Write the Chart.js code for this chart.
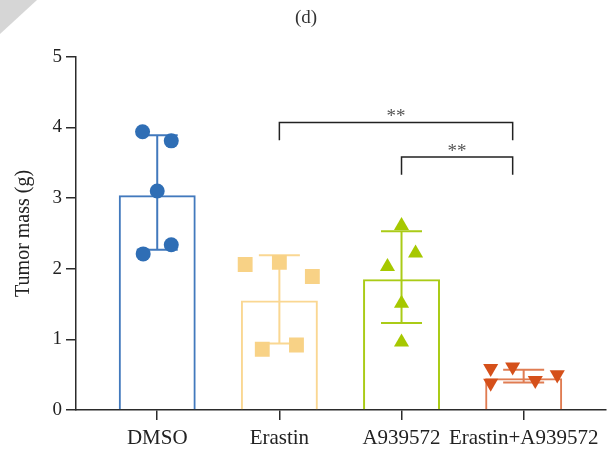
<!DOCTYPE html>
<html>
<head>
<meta charset="utf-8">
<script src="https://cdn.jsdelivr.net/npm/chart.js@4.4.0/dist/chart.umd.min.js"></script>
<style>
    html, body { margin: 0; padding: 0; background: #fff; }
    #wrap { position: relative; width: 616px; height: 464px; }
    #coin { position: absolute; left: 0; top: 0; width: 37px; height: 34px; background: #d6d6d6; clip-path: polygon(0 0, 100% 0, 0 100%); }
</style>
</head>
<body>
<div id="wrap">
    <canvas id="chart" width="616" height="464"></canvas>
    <div id="coin"></div>
</div>
<script>
// --- Données ---
const categories = ['DMSO', 'Erastin', 'A939572', 'Erastin+A939572'];
const means = [3.04, 1.55, 1.85, 0.45];
const errHigh = [3.89, 2.19, 2.53, 0.57];
const errLow = [2.27, 0.94, 1.23, 0.39];

const dmsoPoints = [3.94, 3.81, 3.10, 2.34, 2.21];
const dmsoJitter = [-0.12, 0.115, 0, 0.115, -0.115];
const erastinPoints = [2.06, 2.09, 1.89, 0.86, 0.92];
const erastinJitter = [-0.28, 0, 0.27, -0.14, 0.14];
const a939Points = [2.61, 2.22, 2.03, 1.51, 0.96];
const a939Jitter = [0, 0.115, -0.115, 0, 0];
const comboPoints = [0.59, 0.38, 0.61, 0.42, 0.50];
const comboJitter = [-0.27, -0.27, -0.09, 0.095, 0.275];

const yTicks = [0, 1, 2, 3, 4, 5];

// comparaisons significatives
const bracketFrom = [1, 2];
const bracketTo = [2.91, 2.91];
const bracketY = [4.07, 3.58];
const bracketLegY = [3.82, 3.33];
const bracketLabels = ['**', '**'];

// --- Styles ---
const pointColors = ['#2f6eb5', '#f8d286', '#a6c800', '#d5501a'];
const barColors = ['#4279bd', '#fad792', '#aacb17', '#e07c52'];
const FONT = "'Liberation Serif', 'DejaVu Serif', serif";
const AXIS = '#2b2b2b';

function pointsDataset(values, jitter, idx, style, radius, rotation) {
    return {
        type: 'scatter',
        data: values.map((v, i) => ({ x: idx + jitter[i], y: v })),
        pointStyle: style,
        pointRadius: radius,
        pointHoverRadius: radius,
        rotation: rotation || 0,
        backgroundColor: pointColors[idx],
        borderColor: pointColors[idx],
        borderWidth: 0,
        order: 1
    };
}

// --- Barres d'erreur + crochets de significativité ---
const annotations = {
    id: 'annotations',
    afterDatasetDraw(chart, args) {
        if (args.index !== 0) return;
        const { ctx, scales: { x, y } } = chart;
        const half = 20.5;
        ctx.save();
        ctx.lineWidth = 2;
        categories.forEach((c, i) => {
            const cx = x.getPixelForValue(i);
            const top = y.getPixelForValue(errHigh[i]);
            const bot = y.getPixelForValue(errLow[i]);
            ctx.strokeStyle = barColors[i];
            ctx.beginPath();
            ctx.moveTo(cx, top); ctx.lineTo(cx, bot);
            ctx.moveTo(cx - half, top); ctx.lineTo(cx + half, top);
            ctx.moveTo(cx - half, bot); ctx.lineTo(cx + half, bot);
            ctx.stroke();
        });
        ctx.restore();
    },
    afterDraw(chart) {
        const { ctx, scales: { x, y } } = chart;
        ctx.save();
        ctx.strokeStyle = '#222';
        ctx.lineWidth = 1.5;
        ctx.fillStyle = '#555';
        ctx.font = `19px ${FONT}`;
        ctx.textAlign = 'center';
        ctx.textBaseline = 'alphabetic';
        bracketFrom.forEach((from, i) => {
            const x1 = x.getPixelForValue(from);
            const x2 = x.getPixelForValue(bracketTo[i]);
            const yTop = y.getPixelForValue(bracketY[i]);
            const yLeg = y.getPixelForValue(bracketLegY[i]);
            ctx.beginPath();
            ctx.moveTo(x1, yLeg); ctx.lineTo(x1, yTop);
            ctx.lineTo(x2, yTop); ctx.lineTo(x2, yLeg);
            ctx.stroke();
            ctx.fillText(bracketLabels[i], (x1 + x2) / 2, yTop);
        });
        ctx.restore();
    }
};

const ctx = document.getElementById('chart').getContext('2d');

new Chart(ctx, {
    type: 'bar',
    data: {
        datasets: [
            {
                data: means.map((m, i) => ({ x: i, y: m })),
                backgroundColor: 'rgba(255,255,255,0)',
                borderColor: barColors,
                borderWidth: 2,
                borderSkipped: 'bottom',
                barPercentage: 0.63,
                categoryPercentage: 1,
                order: 2
            },
            pointsDataset(dmsoPoints, dmsoJitter, 0, 'circle', 7.5),
            pointsDataset(erastinPoints, erastinJitter, 1, 'rect', 10.5),
            pointsDataset(a939Points, a939Jitter, 2, 'triangle', 8.7),
            pointsDataset(comboPoints, comboJitter, 3, 'triangle', 8.7, 180)
        ]
    },
    options: {
        responsive: false,
        animation: false,
        layout: { padding: { left: 0, right: 4, top: 0, bottom: 0 } },
        plugins: {
            legend: { display: false },
            tooltip: { enabled: false },
            title: {
                display: true,
                text: '(d)',
                color: '#333',
                font: { family: FONT, size: 19, weight: 'normal' },
                padding: { top: 7, bottom: 27 }
            }
        },
        scales: {
            x: {
                type: 'linear',
                offset: false,
                min: -0.665,
                max: 3.67,
                afterBuildTicks: scale => {
                    scale.ticks = categories.map((c, i) => ({ value: i }));
                },
                afterFit: scale => {
                    scale.height = 54;
                    scale.paddingLeft = 0;
                    scale.paddingRight = 0;
                },
                ticks: {
                    callback: val => categories[val],
                    color: '#222',
                    font: { family: FONT, size: 21 },
                    padding: 6,
                    maxRotation: 0,
                    autoSkip: false
                },
                grid: { offset: false, drawOnChartArea: false, tickLength: 10, tickColor: AXIS, lineWidth: 1.5 },
                border: { color: AXIS, width: 1.5 }
            },
            y: {
                min: 0,
                max: 5,
                afterBuildTicks: scale => {
                    scale.ticks = yTicks.map(v => ({ value: v }));
                },
                afterFit: scale => { scale.width = 76; },
                ticks: {
                    color: '#222',
                    font: { family: FONT, size: 19 },
                    padding: 4
                },
                grid: { drawOnChartArea: false, tickLength: 10, tickColor: AXIS, lineWidth: 1.5 },
                border: { color: AXIS, width: 1.5 },
                title: {
                    display: true,
                    text: 'Tumor mass (g)',
                    color: '#222',
                    font: { family: FONT, size: 20 },
                    padding: { top: 12 }
                }
            }
        }
    },
    plugins: [annotations]
});
</script>
</body>
</html>
